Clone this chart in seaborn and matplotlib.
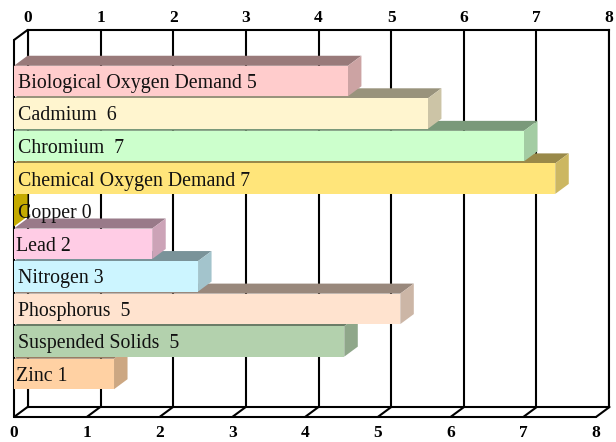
import matplotlib
matplotlib.use("Agg")
import matplotlib.pyplot as plt
from matplotlib.patches import Polygon
from matplotlib.colors import to_rgb
import pandas as pd
import seaborn as sns

categories = ["Biological Oxygen Demand", "Cadmium", "Chromium", "Chemical Oxygen Demand",
              "Copper", "Lead", "Nitrogen", "Phosphorus", "Suspended Solids", "Zinc"]
bar_lengths = [4.59, 5.69, 7.01, 7.44, 0.0, 1.90, 2.53, 5.31, 4.54, 1.375]
shown_values = [5, 6, 7, 7, 0, 2, 3, 5, 5, 1]
separators = [" ", "  ", "  ", " ", " ", " ", " ", "  ", "  ", " "]
colors = ["#FFCCCC", "#FFF5CF", "#CCFFCC", "#FFE57A", "#F5D500",
          "#FFCCE5", "#CCF5FF", "#FFE3CF", "#B3D1AD", "#FFD1A3"]
label_pad_px = [4, 4, 4, 4, 4, 2, 4, 4, 4, 2]
ticks = list(range(9))

W, H = 616, 442
FONT = "Liberation Serif"
sns.set_theme(style="white")
plt.rcParams["font.family"] = FONT
fig = plt.figure(figsize=(W / 100, H / 100), dpi=100, facecolor="white")


def box(l, t, r, b):
    return [l / W, 1 - b / H, (r - l) / W, (b - t) / H]


LINE = 1.5
TICK_SIZE = 12.5
# back wall
wall = fig.add_axes(box(28, 30, 609, 407))
wall.set_xlim(0, 8)
wall.set_ylim(0, 1)
wall.set_yticks([])
wall.set_xticks(ticks)
wall.grid(axis="x", color="black", lw=LINE)
wall.xaxis.tick_top()
wall.tick_params(axis="x", length=0, pad=3)
for t in wall.get_xticklabels():
    t.set_fontweight("bold")
    t.set_fontsize(TICK_SIZE)
    t.set_color("black")
for s in wall.spines.values():
    s.set_color("black")
    s.set_linewidth(LINE)

# front plane holding the bars
ax = fig.add_axes(box(14, 40, 596, 417))
ax.patch.set_alpha(0)
df = pd.DataFrame({"category": categories, "value": bar_lengths})
sns.barplot(data=df, x="value", y="category", hue="category", palette=colors,
            order=categories, hue_order=categories, orient="h", saturation=1,
            width=0.937, legend=False, ax=ax)

px_x = 72.75
px_y = 32.55
dx = 13.5 / px_x
dy = 10 / px_y
ax.set_xlim(0, 8)
ax.set_ylim((417 - 81) / px_y, (40 - 81) / px_y)

for i, patch in enumerate(ax.patches):
    z = 30 - i * 2
    patch.set_zorder(z)
    patch.set_edgecolor("none")
    v = patch.get_width()
    yt = patch.get_y()
    yb = yt + patch.get_height()
    rgb = to_rgb(colors[i])
    top = tuple(c * 0.6 for c in rgb)
    side = tuple(c * 0.8 for c in rgb)
    ax.add_patch(Polygon([(0, yt), (v, yt), (v + dx, yt - dy), (dx, yt - dy)],
                         closed=True, fc=top, ec="none", zorder=z - 1, clip_on=False))
    ax.add_patch(Polygon([(v, yt), (v + dx, yt - dy), (v + dx, yb - dy), (v, yb)],
                         closed=True, fc=side, ec="none", zorder=z - 1, clip_on=False))
    ax.annotate(f"{categories[i]}{separators[i]}{shown_values[i]}", xy=(0, i),
                xytext=(label_pad_px[i] * 0.72, -1.7), textcoords="offset points",
                ha="left", va="center", fontsize=14.3, color="#111111", zorder=40,
                annotation_clip=False)

# floor and side wall lines
for t in ticks:
    ax.plot([t, t + dx], [(417 - 81) / px_y, (417 - 81) / px_y - dy], color="black",
            lw=LINE, zorder=1, clip_on=False)
ax.plot([0, dx], [(40 - 81) / px_y, (40 - 81) / px_y - dy], color="black", lw=LINE,
        zorder=1, clip_on=False)
ax.plot([0, 0], [(40 - 81) / px_y, (417 - 81) / px_y], color="black", lw=LINE,
        zorder=1, clip_on=False)
ax.plot([0, 8], [(417 - 81) / px_y, (417 - 81) / px_y], color="black", lw=LINE,
        zorder=1, clip_on=False)

ax.set_xlabel("")
ax.set_ylabel("")
ax.set_yticks([])
ax.set_xticks(ticks)
ax.tick_params(axis="x", length=0, pad=5.5)
for t in ax.get_xticklabels():
    t.set_fontweight("bold")
    t.set_fontsize(TICK_SIZE)
    t.set_color("black")
for s in ax.spines.values():
    s.set_visible(False)

fig.savefig("out.png", dpi=100, facecolor="white")
